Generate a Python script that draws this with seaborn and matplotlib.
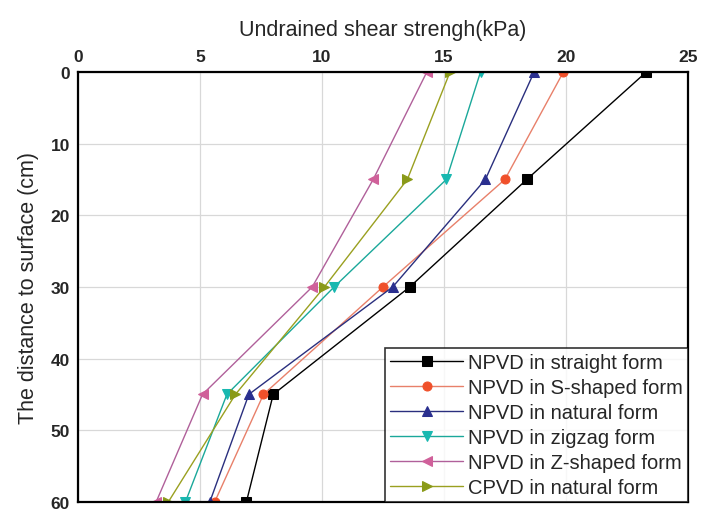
import matplotlib
matplotlib.use("Agg")
import matplotlib.pyplot as plt
import seaborn as sns
import pandas as pd

sns.set_theme(style="white")
plt.rcParams["font.family"] = ["Liberation Sans", "DejaVu Sans"]

depth = [0, 15, 30, 45, 60]
straight = [23.3, 18.4, 13.6, 8.0, 6.9]
s_shaped = [19.9, 17.5, 12.5, 7.6, 5.6]
natural = [18.7, 16.7, 12.9, 7.0, 5.4]
zigzag = [16.5, 15.1, 10.5, 6.1, 4.4]
z_shaped = [14.3, 12.1, 9.6, 5.1, 3.2]
cpvd = [15.25, 13.5, 10.1, 6.45, 3.7]

series_names = [
    "NPVD in straight form",
    "NPVD in S-shaped form",
    "NPVD in natural form",
    "NPVD in zigzag form",
    "NPVD in Z-shaped form",
    "CPVD in natural form",
]
series_values = [straight, s_shaped, natural, zigzag, z_shaped, cpvd]
line_colors = ["#000000", "#e8806a", "#2a2f7e", "#1aa89a", "#b0609a", "#9aa020"]
marker_colors = ["#000000", "#f0502a", "#2a2f8f", "#18b8b0", "#d0609a", "#8a9a18"]
markers = ["s", "o", "^", "v", "<", ">"]

rows = []
for name, vals in zip(series_names, series_values):
    for d, v in zip(depth, vals):
        rows.append({"series": name, "strength": v, "depth": d})
df = pd.DataFrame(rows)

fig = plt.figure(figsize=(7.04, 5.10), dpi=100)
ax = fig.add_axes([0.111, 0.014, 0.866, 0.843])

for name, lc, mc, mk in zip(series_names, line_colors, marker_colors, markers):
    sub = df[df["series"] == name]
    sns.lineplot(data=sub, x="strength", y="depth", ax=ax, sort=False,
                 color=lc, lw=1.0, marker=mk, markersize=6.5,
                 markerfacecolor=mc, markeredgecolor=mc, label=name,
                 estimator=None)

ax.set_xlim(0, 25)
ax.set_ylim(60, 0)
ax.set_xticks([0, 5, 10, 15, 20, 25])
ax.set_yticks([0, 10, 20, 30, 40, 50, 60])
ax.xaxis.tick_top()
ax.xaxis.set_label_position("top")
ax.tick_params(length=0, labelsize=12.5, pad=6)
for lab in ax.get_xticklabels() + ax.get_yticklabels():
    lab.set_fontweight("semibold")
ax.set_xlabel("Undrained shear strengh(kPa)", fontsize=15.5, labelpad=10)
ax.set_ylabel("The distance to surface (cm)", fontsize=15.5, labelpad=8)
ax.grid(True, color="#d8d8d8", lw=0.9)
for sp in ax.spines.values():
    sp.set_color("black")
    sp.set_linewidth(1.6)

leg = ax.legend(loc="lower right", fontsize=14.5, frameon=True, fancybox=False,
                handlelength=3.6, handletextpad=0.25, borderpad=0.25,
                labelspacing=0.3, borderaxespad=0.0)
leg.get_frame().set_edgecolor("black")
leg.get_frame().set_linewidth(1.2)

fig.savefig("out.png", dpi=100)
